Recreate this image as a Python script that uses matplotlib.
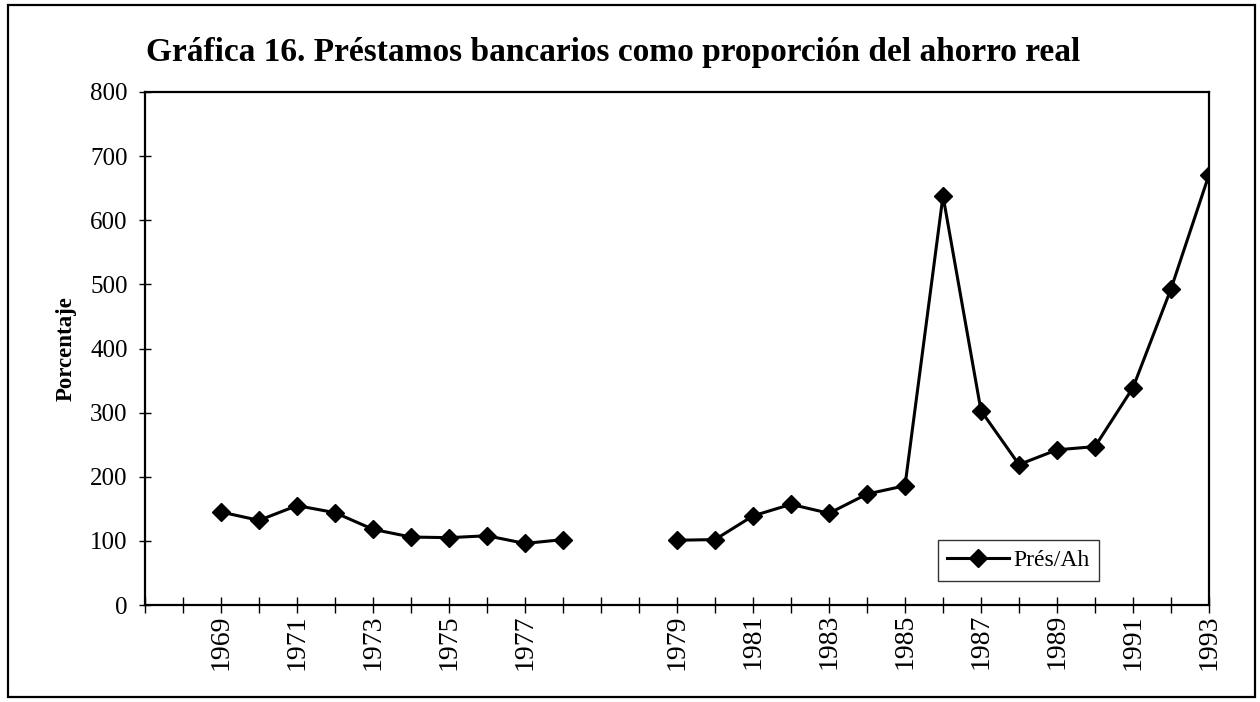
import numpy as np
import matplotlib
matplotlib.use("Agg")
from matplotlib import pyplot as plt
from matplotlib.patches import Rectangle

# category axis: blanks before 1969 and between 1978 and 1979
categories = ["", "",
              "1969", "1970", "1971", "1972", "1973", "1974", "1975", "1976", "1977", "1978",
              "", "",
              "1979", "1980", "1981", "1982", "1983", "1984", "1985", "1986", "1987", "1988",
              "1989", "1990", "1991", "1992", "1993"]
tick_labels = ["", "",
               "1969", "", "1971", "", "1973", "", "1975", "", "1977", "",
               "", "",
               "1979", "", "1981", "", "1983", "", "1985", "", "1987", "",
               "1989", "", "1991", "", "1993"]
pres_ah = [None, None,
           145, 132, 155, 144, 118, 106, 105, 108, 96, 102,
           None, None,
           101, 102, 139, 157, 143, 173, 186, 638, 303, 219,
           242, 247, 339, 493, 671]

serif = ["Liberation Serif", "DejaVu Serif"]
plt.rcParams["font.family"] = serif

fig = plt.figure(figsize=(12.6, 7.02), dpi=100)
ax = fig.add_axes([145 / 1260, 1 - 605 / 702, 1064 / 1260, 513 / 702])

x = np.arange(len(categories))
y = np.array([np.nan if v is None else v for v in pres_ah], dtype=float)
ax.plot(x, y, color="black", lw=2.2, marker="D", markersize=9.5,
        markerfacecolor="black", markeredgecolor="black", label="Prés/Ah")

ax.set_xlim(0, len(categories) - 1)
ax.set_ylim(0, 800)
ax.set_yticks(range(0, 801, 100))
ax.set_xticks(x)
ax.set_xticklabels(tick_labels, rotation=90, fontsize=20)
ax.tick_params(axis="x", direction="inout", length=11, width=1, pad=1)
ax.tick_params(axis="y", direction="inout", length=9, width=1, pad=8, labelsize=18)
for s in ax.spines.values():
    s.set_linewidth(1.6)

ax.set_ylabel("Porcentaje", fontsize=16.5, fontweight="bold", labelpad=10)

leg = ax.legend(loc="lower left", bbox_to_anchor=(0.745, 0.047), fontsize=17,
                frameon=True, fancybox=False, edgecolor="black", handlelength=2.6,
                borderpad=0.4, handletextpad=0.2, borderaxespad=0)
leg.get_frame().set_linewidth(1.0)

fig.text(613 / 1260, 1 - 53 / 702, "Gráfica 16. Préstamos bancarios como proporción del ahorro real",
         ha="center", va="center", fontsize=24, fontweight="bold")

fig.patches.append(Rectangle((8 / 1260, 5 / 702), 1247 / 1260, 692 / 702,
                             transform=fig.transFigure, fill=False,
                             edgecolor="black", linewidth=1.6))

fig.savefig("out.png", dpi=100)
